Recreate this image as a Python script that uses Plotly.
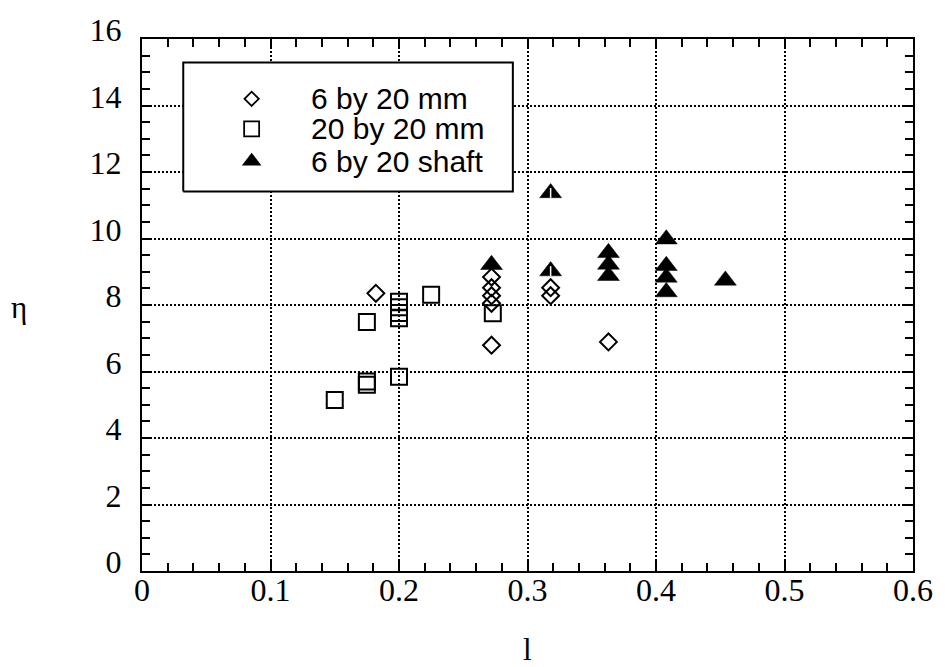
import plotly.graph_objects as go

# --- measured data -------------------------------------------------------
# 6 by 20 mm (open diamonds)
d_l = [0.182, 0.272, 0.272, 0.272, 0.272, 0.272, 0.318, 0.318, 0.363]
d_eta = [8.35, 8.84, 8.52, 8.28, 8.05, 6.79, 8.52, 8.28, 6.89]

# 20 by 20 mm (open squares)
s_l = [0.150, 0.175, 0.175, 0.175, 0.200, 0.200, 0.200, 0.200, 0.200, 0.225, 0.273]
s_eta = [5.14, 7.49, 5.70, 5.60, 8.10, 7.93, 7.76, 7.60, 5.84, 8.31, 7.75]

# 6 by 20 shaft (filled triangles)
t_l = [0.272, 0.318, 0.318, 0.363, 0.363, 0.363, 0.408, 0.408, 0.408, 0.408, 0.454]
t_eta = [9.21, 11.37, 9.02, 9.57, 9.22, 8.88, 9.98, 9.18, 8.83, 8.39, 8.74]
# shaft points printed with a light centre stroke
marked = [1, 2]

series_names = ["6 by 20 mm", "20 by 20 mm", "6 by 20 shaft"]

x_ticks = [0, 0.1, 0.2, 0.3, 0.4, 0.5, 0.6]
y_ticks = [0, 2, 4, 6, 8, 10, 12, 14, 16]

# --- styles --------------------------------------------------------------
SERIF = "Liberation Serif, Times New Roman, serif"
SANS = "Liberation Sans, Arial, Helvetica, sans-serif"

diamond_style = dict(symbol="diamond-open", size=13, color="black", line=dict(width=2, color="black"))
square_style = dict(symbol="square-open", size=16, color="black", line=dict(width=2, color="black"))
triangle_style = dict(symbol="triangle-up", size=19, color="black", line=dict(width=0.5, color="black"))

fig = go.Figure()

fig.add_trace(go.Scatter(x=d_l, y=d_eta, mode="markers", name=series_names[0],
                         marker=diamond_style, showlegend=False))
fig.add_trace(go.Scatter(x=s_l, y=s_eta, mode="markers", name=series_names[1],
                         marker=square_style, showlegend=False))
fig.add_trace(go.Scatter(x=t_l, y=t_eta, mode="markers", name=series_names[2],
                         marker=triangle_style, showlegend=False))
fig.add_trace(go.Scatter(x=[t_l[i] for i in marked], y=[t_eta[i] for i in marked],
                         mode="markers", showlegend=False, hoverinfo="skip",
                         marker=dict(symbol="line-ns", size=7,
                                     line=dict(width=1.5, color="white"))))

# --- legend box, drawn on an overlay 0..1 axis pair ----------------------
box_x = [0.0535, 0.481, 0.481, 0.0535, 0.0535]
box_y = [0.7135, 0.7135, 0.9556, 0.9556, 0.7135]
fig.add_trace(go.Scatter(x=box_x, y=box_y, mode="lines", fill="toself",
                         fillcolor="white", line=dict(color="black", width=2),
                         xaxis="x2", yaxis="y2", showlegend=False, hoverinfo="skip"))

leg_sym_x = 0.1422
leg_text_x = 0.2164
leg_rows = [0.8876, 0.8309, 0.7704]
leg_styles = [
    dict(symbol="diamond-open", size=11, color="black", line=dict(width=1.8, color="black")),
    dict(symbol="square-open", size=15, color="black", line=dict(width=1.8, color="black")),
    dict(symbol="triangle-up", size=17, color="black", line=dict(width=0)),
]
for name, yy, st in zip(series_names, leg_rows, leg_styles):
    fig.add_trace(go.Scatter(x=[leg_sym_x], y=[yy], mode="markers", marker=st,
                             xaxis="x2", yaxis="y2", showlegend=False, hoverinfo="skip"))
    fig.add_annotation(x=leg_text_x, y=yy, xref="paper", yref="paper", text=name,
                       showarrow=False, xanchor="left", yanchor="middle",
                       font=dict(family=SANS, size=30, color="black"))

# --- axis titles ---------------------------------------------------------
fig.add_annotation(x=-0.159, y=0.496, xref="paper", yref="paper", text="η",
                   showarrow=False, xanchor="center", yanchor="middle",
                   font=dict(family=SERIF, size=31, color="black"))
fig.add_annotation(x=0.4994, y=-0.147, xref="paper", yref="paper", text="l",
                   showarrow=False, xanchor="center", yanchor="middle",
                   font=dict(family=SERIF, size=31, color="black"))

axis_common = dict(
    showline=True, linecolor="black", linewidth=2, mirror="allticks",
    ticks="inside", ticklen=10, tickwidth=1.5, tickcolor="black",
    showgrid=True, gridcolor="black", gridwidth=1.5, griddash="2px,2px",
    zeroline=False,
    tickfont=dict(family=SERIF, size=32, color="black"),
)

fig.update_layout(
    width=945, height=667,
    margin=dict(l=142, r=26, t=31, b=96),
    paper_bgcolor="white", plot_bgcolor="white",
    showlegend=False,
    xaxis=dict(range=[0, 0.6], tickvals=x_ticks, ticktext=[f"{v:g}" for v in x_ticks],
               minor=dict(dtick=0.02, ticks="inside", ticklen=8, tickwidth=1.5,
                          tickcolor="black", showgrid=False),
               ticklabelstandoff=-10,
               **axis_common),
    yaxis=dict(range=[0, 16], tickvals=y_ticks, ticktext=[str(v) for v in y_ticks],
               minor=dict(dtick=0.5, ticks="inside", ticklen=8, tickwidth=1.5,
                          tickcolor="black", showgrid=False),
               ticklabelstandoff=12, ticklabelshift=-9,
               **axis_common),
    xaxis2=dict(range=[0, 1], overlaying="x", visible=False, fixedrange=True),
    yaxis2=dict(range=[0, 1], overlaying="y", visible=False, fixedrange=True),
)

fig.write_html("out.html")
